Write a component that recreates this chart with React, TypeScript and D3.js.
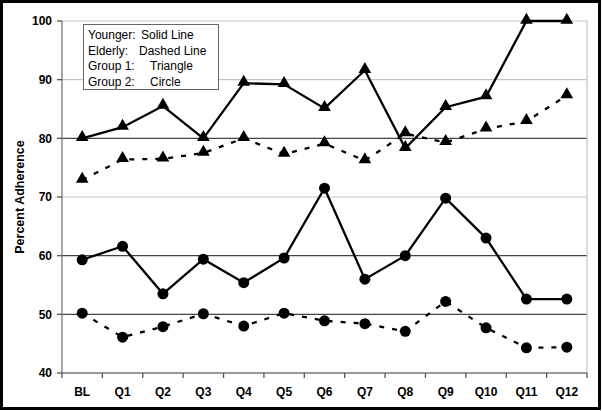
import React from 'react';
import * as d3 from 'd3';

const quarters = ['BL', 'Q1', 'Q2', 'Q3', 'Q4', 'Q5', 'Q6', 'Q7', 'Q8', 'Q9', 'Q10', 'Q11', 'Q12'];
const younger1 = [80, 81.9, 85.5, 80, 89.4, 89.2, 85.1, 91.6, 78.3, 85.3, 87.1, 100, 100];
const elderly1 = [72.9, 76.4, 76.5, 77.5, 80, 77.3, 79.1, 76.2, 80.8, 79.3, 81.6, 82.9, 87.3];
const younger2 = [59.3, 61.6, 53.5, 59.4, 55.4, 59.6, 71.5, 56.0, 60, 69.8, 63.0, 52.6, 52.6];
const elderly2 = [50.2, 46.1, 47.9, 50.1, 48.0, 50.2, 48.9, 48.4, 47.1, 52.2, 47.7, 44.3, 44.4];
const yTicks = [40, 50, 60, 70, 80, 90, 100];
const darkGrid = [50, 60, 80];
const legendLines = [
  ['Younger:', 'Solid Line'],
  ['Elderly:', 'Dashed Line'],
  ['Group 1:', 'Triangle'],
  ['Group 2:', 'Circle'],
];

const W = 602;
const H = 411;
const margin = { top: 21, right: 15, bottom: 38, left: 62 };

export default function App() {
  const x = d3.scaleBand<string>()
    .domain(quarters)
    .range([margin.left, W - margin.right]);
  const y = d3.scaleLinear()
    .domain([40, 100])
    .range([H - margin.bottom, margin.top]);

  const line = d3.line<number>()
    .x((_, i) => x(quarters[i])! + x.bandwidth() / 2)
    .y(d => y(d));

  const tri = d3.symbol().type(d3.symbolTriangle).size(70)()!;

  const series = [
    { data: younger1, dashed: false, shape: 'tri' },
    { data: elderly1, dashed: true, shape: 'tri' },
    { data: younger2, dashed: false, shape: 'circle' },
    { data: elderly2, dashed: true, shape: 'circle' },
  ];

  const x0 = margin.left;
  const x1 = W - margin.right;
  const font = 'Arial, "Liberation Sans", sans-serif';

  return (
    <svg width={W} height={H} style={{ position: 'absolute', left: 0, top: 0, background: '#fff' }} fontFamily={font}>
      <rect x={1.5} y={1.5} width={W - 4} height={H - 4} fill="#fff" stroke="#000" strokeWidth={3} />

      {/* grid */}
      {yTicks.filter(t => t > 40).map(t => (
        <line key={t} x1={x0} x2={x1} y1={y(t)} y2={y(t)}
          stroke={darkGrid.includes(t) ? '#444' : '#c4c4c4'} strokeWidth={darkGrid.includes(t) ? 1.4 : 1.2} />
      ))}
      <line x1={x1} x2={x1} y1={y(100)} y2={y(40)} stroke="#c4c4c4" strokeWidth={1.2} />

      {/* axes */}
      <line x1={x0} x2={x0} y1={y(100)} y2={y(40)} stroke="#777" strokeWidth={1.3} />
      <line x1={x0} x2={x1} y1={y(40)} y2={y(40)} stroke="#777" strokeWidth={1.3} />
      {yTicks.map(t => (
        <g key={t}>
          <line x1={x0 - 5} x2={x0} y1={y(t)} y2={y(t)} stroke="#555" strokeWidth={1.3} />
          <text x={x0 - 10} y={y(t)} dy="0.35em" textAnchor="end" fontSize={12} fontWeight="bold">{t}</text>
        </g>
      ))}
      {quarters.map((q, i) => (
        <g key={q}>
          <line x1={x(q)! + x.bandwidth()} x2={x(q)! + x.bandwidth()} y1={y(40)} y2={y(40) + 5} stroke="#555" strokeWidth={1.3} />
          {i === 0 && <line x1={x(q)!} x2={x(q)!} y1={y(40)} y2={y(40) + 5} stroke="#555" strokeWidth={1.3} />}
          <text x={x(q)! + x.bandwidth() / 2} y={y(40) + 23} textAnchor="middle" fontSize={12} fontWeight="bold">{q}</text>
        </g>
      ))}
      <text transform={`translate(24,${(y(40) + y(100)) / 2}) rotate(-90)`} textAnchor="middle"
        fontSize={12.5} fontWeight="bold">Percent Adherence</text>

      {/* series */}
      {series.map((s, si) => (
        <g key={si}>
          <path d={line(s.data)!} fill="none" stroke="#000" strokeWidth={2.3}
            strokeDasharray={s.dashed ? '5,8' : undefined} />
          {s.data.map((v, i) => {
            const cx = x(quarters[i])! + x.bandwidth() / 2;
            const cy = y(v);
            return s.shape === 'tri'
              ? <path key={i} d={tri} transform={`translate(${cx},${cy - 1})`} fill="#000" />
              : <circle key={i} cx={cx} cy={cy} r={5.5} fill="#000" />;
          })}
        </g>
      ))}

      {/* legend */}
      <rect x={83.5} y={24.5} width={135} height={65} fill="#fff" stroke="#666" strokeWidth={1} />
      {legendLines.map((l, i) => (
        <g key={i} fontSize={12}>
          <text x={88} y={39 + i * 15.6}>{l[0]}</text>
          <text x={i === 0 ? 141 : i === 1 ? 139 : 150} y={39 + i * 15.6}>{l[1]}</text>
        </g>
      ))}
    </svg>
  );
}
